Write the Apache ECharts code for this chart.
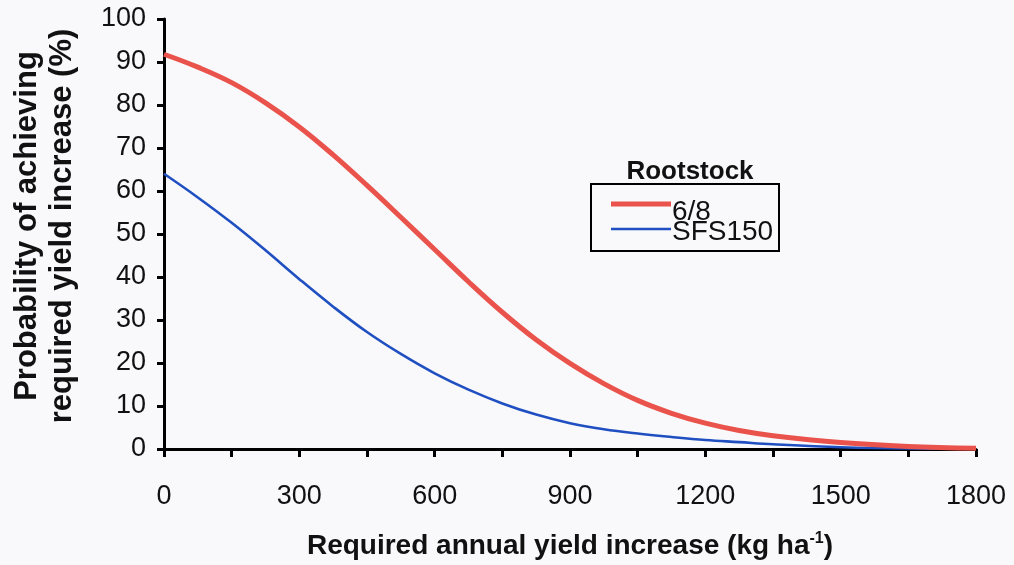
<!DOCTYPE html>
<html>
<head>
<meta charset="utf-8">
<script src="https://cdn.jsdelivr.net/npm/echarts@6/dist/echarts.min.js"></script>
<style>
  html, body { margin: 0; padding: 0; background: #f9f9fb; }
  #chart { width: 1014px; height: 565px; }
</style>
</head>
<body>
<div id="chart"></div>
<script>
// Required annual yield increase (kg/ha)
const yieldIncrease = [0, 75, 150, 225, 300, 375, 450, 525, 600, 675, 750, 825, 900, 975, 1050, 1125, 1200, 1275, 1350, 1500, 1650, 1800];
// Probability (%) of achieving the increase, per rootstock
const rootstock68 = [91.8, 88.8, 85.2, 80.5, 74.9, 68.4, 61.3, 53.9, 46.4, 38.9, 31.8, 25.4, 19.9, 15.2, 11.3, 8.3, 6.0, 4.3, 3.1, 1.5, 0.6, 0.2];
const rootstockSFS150 = [64, 58.5, 52.6, 46.2, 39.5, 33.1, 27.2, 22.1, 17.6, 13.8, 10.6, 8.0, 6.0, 4.6, 3.6, 2.8, 2.1, 1.6, 1.1, 0.4, 0.1, 0.05];
const seriesNames = ['6/8', 'SFS150'];
const seriesColors = ['#e9534c', '#1f4fc1'];
const xTicks = [0, 300, 600, 900, 1200, 1500, 1800];
const yTicks = [0, 10, 20, 30, 40, 50, 60, 70, 80, 90, 100];

const chart = echarts.init(document.getElementById('chart'));
const font = 'Liberation Sans, Arial, sans-serif';
const pair = (xs, ys) => xs.map((x, i) => [x, ys[i]]);

// One legend block per series so each row sits at its own height;
// the label token's top padding drops it slightly below its line sample
const legendRow = (i, top, icon, padTop) => ({
  orient: 'vertical', left: 606, top: top,
  itemWidth: 60, itemHeight: 20, itemGap: 0,
  formatter: '{n|{name}}',
  textStyle: {
    rich: { n: { fontFamily: font, fontSize: 28, color: '#111', padding: [padTop, 0, 0, -4] } }
  },
  data: [{ name: seriesNames[i], icon: icon, itemStyle: { color: seriesColors[i] } }]
});

chart.setOption({
  backgroundColor: '#f9f9fb',
  animation: false,
  grid: { left: 164, right: 38, top: 19, bottom: 112 },
  xAxis: {
    type: 'value',
    min: xTicks[0], max: xTicks[xTicks.length - 1], interval: 150,
    axisLine: { lineStyle: { color: '#000', width: 3 } },
    axisTick: { inside: false, length: 8, lineStyle: { color: '#000', width: 3 } },
    splitLine: { show: false },
    axisLabel: {
      margin: 34, color: '#111', fontFamily: font, fontSize: 27,
      formatter: v => xTicks.includes(v) ? String(v) : ''
    },
    name: '{t|Required annual yield increase (kg ha}{s|-1}{t|)}',
    nameLocation: 'middle', nameGap: 82,
    nameTextStyle: {
      rich: {
        t: { fontFamily: font, fontWeight: 'bold', fontSize: 28, color: '#111' },
        s: { fontFamily: font, fontWeight: 'bold', fontSize: 16, color: '#111', verticalAlign: 'top', padding: [0, 0, 14, 0] }
      }
    }
  },
  yAxis: {
    type: 'value',
    min: yTicks[0], max: yTicks[yTicks.length - 1], interval: 10,
    axisLine: { show: true, lineStyle: { color: '#000', width: 3 } },
    axisTick: { show: true, inside: false, length: 7, lineStyle: { color: '#000', width: 3 } },
    splitLine: { show: false },
    axisLabel: { margin: 18, color: '#111', fontFamily: font, fontSize: 27 },
    name: 'Probability of achieving\nrequired yield increase (%)',
    nameLocation: 'middle', nameGap: 84, nameRotate: 90,
    nameTextStyle: {
      fontFamily: font, fontWeight: 'bold', fontSize: 31, color: '#111', lineHeight: 35,
      padding: [0, 0, 0, 16]
    }
  },
  legend: [
    legendRow(0, 193, 'path://M0,7.5 L60,7.5 L60,12.5 L0,12.5 Z', 16),
    legendRow(1, 213, 'path://M0,8.7 L60,8.7 L60,11.3 L0,11.3 Z', 6)
  ],
  graphic: [
    {
      type: 'rect', shape: { x: 591, y: 184, width: 188, height: 67 },
      style: { fill: 'none', stroke: '#000', lineWidth: 2 }, z: 10
    },
    {
      type: 'text', x: 690, y: 172,
      style: { text: 'Rootstock', font: 'bold 26px ' + font, fill: '#111', align: 'center', verticalAlign: 'middle' }
    }
  ],
  series: [
    {
      name: seriesNames[0], type: 'line', smooth: 0.4, showSymbol: false, symbol: 'none',
      data: pair(yieldIncrease, rootstock68),
      lineStyle: { color: seriesColors[0], width: 5 }, itemStyle: { color: seriesColors[0] }, z: 3
    },
    {
      name: seriesNames[1], type: 'line', smooth: 0.4, showSymbol: false, symbol: 'none',
      data: pair(yieldIncrease, rootstockSFS150),
      lineStyle: { color: seriesColors[1], width: 2.6 }, itemStyle: { color: seriesColors[1] }, z: 2
    }
  ]
});
</script>
</body>
</html>
